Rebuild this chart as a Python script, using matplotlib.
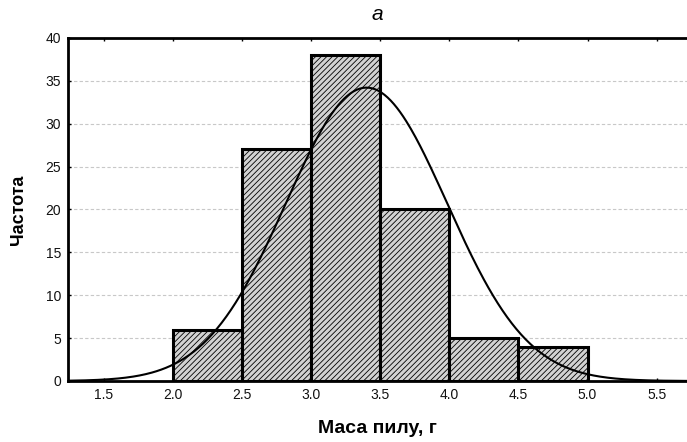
import numpy as np
from matplotlib import pyplot as plt

plt.rcParams['font.family'] = ['Liberation Sans', 'DejaVu Sans']
plt.rcParams['hatch.color'] = '#8a8a8a'
plt.rcParams['hatch.linewidth'] = 0.6

# Histogram bins (mass, g) and counts
bin_edges = [2.0, 2.5, 3.0, 3.5, 4.0, 4.5, 5.0]
counts = [6, 27, 38, 20, 5, 4]
# Fitted normal curve parameters
fit_mean = 3.40
fit_sd = 0.583
n_total = sum(counts)
bin_width = 0.5

x_ticks = [1.5, 2.0, 2.5, 3.0, 3.5, 4.0, 4.5, 5.0, 5.5]
y_ticks = [0, 5, 10, 15, 20, 25, 30, 35, 40]

fig = plt.figure(figsize=(6.87, 4.42), dpi=100)
ax = fig.add_axes([68 / 687, 61 / 442, 619 / 687, 343 / 442])

lefts = bin_edges[:-1]
ax.bar(lefts, counts, width=bin_width, align='edge', facecolor='#d2d2d2',
       edgecolor='black', linewidth=2.2, hatch='//////', zorder=2)

xs = np.linspace(1.24, 5.72, 400)
ys = n_total * bin_width / (fit_sd * np.sqrt(2 * np.pi)) * np.exp(-0.5 * ((xs - fit_mean) / fit_sd) ** 2)
ax.plot(xs, ys, color='black', linewidth=1.5, zorder=3)

ax.set_xlim(1.239, 5.72)
ax.set_ylim(0, 40)
ax.set_xticks(x_ticks)
ax.set_xticklabels([f"{v:.1f}" for v in x_ticks])
ax.set_yticks(y_ticks)
ax.yaxis.grid(True, linestyle=(0, (3, 2)), color='#c8c8c8', linewidth=0.8, zorder=0)
ax.set_axisbelow(True)

ax.spines['right'].set_visible(False)
for side in ['left', 'top', 'bottom']:
    ax.spines[side].set_linewidth(2)
ax.tick_params(axis='both', direction='in', length=2, width=1, labelsize=10, pad=5,
               top=True, labelcolor='#111111')

ax.set_xlabel('Маса пилу, г', fontsize=14, fontweight='bold', labelpad=13)
ax.set_ylabel('Частота', fontsize=13, fontweight='bold', labelpad=13)
ax.set_title('a', fontsize=15, style='italic', pad=13)

plt.savefig('out.png', dpi=100)
